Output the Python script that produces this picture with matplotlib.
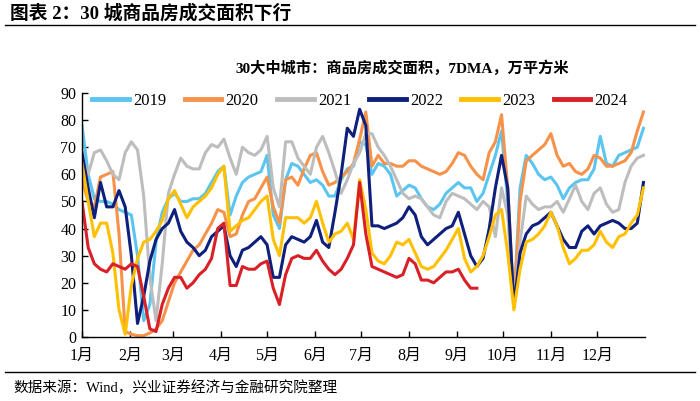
import numpy as np
import matplotlib
matplotlib.use("Agg")
import matplotlib.pyplot as plt
from matplotlib.lines import Line2D

plt.rcParams['font.family'] = ['Liberation Serif', 'Noto Sans CJK SC']
plt.rcParams['axes.unicode_minus'] = False

# day-of-year sampling (every 4 days)
day_of_year = list(range(0, 365, 4))

s2019 = [78, 60, 51, 50, 50, 49, 47, 46, 45, 30,
         6, 12, 35, 46, 51, 53, 50, 50, 51, 51,
         53, 57, 61, 63, 45, 52, 57, 59, 60, 61,
         67, 45, 40, 58, 64, 63, 60, 57, 58, 56,
         52, 52, 58, 62, 63, 72, 71, 60, 64, 63,
         60, 52, 54, 56, 55, 51, 48, 47, 49, 53,
         55, 57, 55, 55, 50, 53, 60, 67, 76, 50,
         12, 55, 67, 64, 60, 58, 59, 56, 51, 55,
         57, 58, 58, 62, 74, 64, 63, 67, 68, 69,
         70, 77]
s2020 = [58, 50, 48, 59, 60, 61, 38, 2, 1, 0.5,
         0.5, 1.5, 3, 6, 13, 20, 24, 28, 32, 34,
         38, 42, 47, 46, 37, 38, 45, 50, 51, 55,
         59, 48, 42, 58, 59, 56, 62, 67, 68, 61,
         56, 57, 59, 61, 64, 73, 83, 63, 67, 64,
         64, 63, 63, 65, 65, 63, 62, 61, 60, 61,
         64, 68, 67, 63, 60, 58, 68, 72, 82, 55,
         12, 50, 65, 67, 69, 71, 75, 67, 63, 64,
         61, 60, 62, 67, 66, 63, 63, 64, 65, 68,
         76, 83]
s2021 = [66, 60, 68, 69, 65, 60, 58, 68, 72, 69,
         52, 22, 6, 27, 53, 60, 66, 63, 62, 62,
         68, 71, 70, 73, 66, 60, 70, 68, 67, 69,
         74, 55, 48, 72, 72, 66, 63, 60, 70, 74,
         68, 61, 53, 58, 64, 68, 75, 75, 70, 67,
         63, 58, 53, 51, 52, 51, 48, 45, 44, 50,
         53, 52, 51, 49, 47, 50, 48, 37, 55, 45,
         12, 35, 52, 49, 47, 48, 48, 50, 46, 51,
         56, 50, 47, 53, 55, 49, 46, 47, 57, 63,
         66, 67]
s2022 = [68, 55, 44, 57, 48, 48, 54, 48, 30, 5,
         15, 28, 36, 40, 42, 47, 39, 35, 33, 30,
         32, 37, 39, 41, 30, 26, 32, 33, 35, 37,
         34, 22, 22, 34, 37, 36, 35, 37, 43, 35,
         33, 46, 60, 77, 74, 84, 78, 41, 41, 40,
         41, 42, 44, 48, 45, 37, 34, 36, 38, 40,
         41, 46, 38, 30, 26, 29, 40, 55, 67, 55,
         11, 31, 38, 41, 42, 44, 46, 41, 36, 33,
         33, 39, 41, 38, 41, 42, 43, 42, 40, 40,
         42, 57]
s2023 = [64, 50, 37, 42, 42, 31, 10, 1, 19, 29,
         35, 36, 39, 43, 51, 54, 49, 44, 48, 50,
         52, 55, 60, 63, 39, 41, 43, 44, 47, 50,
         52, 36, 30, 44, 44, 44, 42, 44, 50, 42,
         35, 38, 39, 42, 36, 58, 47, 31, 28, 27,
         30, 35, 34, 36, 31, 26, 25, 26, 29, 32,
         36, 40, 29, 24, 26, 30, 37, 45, 47, 31,
         10, 25, 35, 36, 38, 41, 46, 41, 33, 27,
         29, 32, 32, 34, 39, 35, 33, 37, 38, 42,
         45, 55]
s2024 = [50, 33, 27, 25, 24, 27, 26, 25, 27, 26,
         15, 3, 2, 12, 18, 22, 22, 18, 20, 23,
         25, 29, 40, 42, 19, 19, 26, 25, 25, 27,
         28, 18, 12, 23, 29, 30, 29, 29, 32, 28,
         25, 23, 25, 29, 34, 57, 38, 26, 25, 24,
         23, 22, 23, 29, 27, 21, 21, 20, 22, 24,
         24, 25, 21, 18, 18]

series_names = ['2019', '2020', '2021', '2022', '2023', '2024']
series_values = [s2019, s2020, s2021, s2022, s2023, s2024]
series_colors = ['#5BC5F0', '#F7924A', '#BDBDBD', '#0E1F7C', '#FFC000', '#D92027']

month_starts = [0, 31, 59, 90, 120, 151, 181, 212, 243, 273, 304, 334]
month_labels = ['1月', '2月', '3月', '4月', '5月', '6月', '7月', '8月', '9月', '10月', '11月', '12月']
y_ticks = [0, 10, 20, 30, 40, 50, 60, 70, 80, 90]

header_text = '图表 2：30 城商品房成交面积下行'
chart_title = '30大中城市：商品房成交面积，7DMA，万平方米'
source_text = '数据来源：Wind，兴业证券经济与金融研究院整理'

fig = plt.figure(figsize=(7.0, 4.01), dpi=100)
ax = fig.add_axes([82/700, 1-337/401, (645-82)/700, (337-93)/401])

for name, vals, col in zip(series_names, series_values, series_colors):
    ax.plot(day_of_year[:len(vals)], vals, color=col, lw=2.2, label=name,
            solid_joinstyle='round')

ax.set_xlim(0, 365)
ax.set_ylim(0, 90)
ax.set_yticks(y_ticks)
ax.set_xticks(month_starts)
ax.set_xticklabels(month_labels)
ax.tick_params(axis='both', direction='in', length=4, width=1, labelsize=11.5, colors='black')
ax.tick_params(axis='x', pad=8)
ax.tick_params(axis='y', pad=4)
for sp in ['top', 'right']:
    ax.spines[sp].set_visible(False)
for sp in ['left', 'bottom']:
    ax.spines[sp].set_color('black')
    ax.spines[sp].set_linewidth(1.0)

handles = [Line2D([0], [0], color=c, lw=3.5) for c in series_colors]
ax.legend(handles, series_names, ncol=6, loc='center',
          bbox_to_anchor=((360-82)/563, (337-100.7)/244),
          frameon=False, fontsize=12, handlelength=2.2, handletextpad=0.25,
          columnspacing=1.1, borderaxespad=0)

fig.text(402/700, 1-68/401, chart_title, ha='center', va='center',
         fontsize=11, fontweight='bold')
fig.text(10/700, 1-13/401, header_text, ha='left', va='center',
         fontsize=13.5, fontweight='bold')
fig.add_artist(Line2D([5/700, 695/700], [1-25/401, 1-25/401], color='black', lw=1.0,
                      transform=fig.transFigure))
fig.add_artist(Line2D([5/700, 695/700], [1-372/401, 1-372/401], color='black', lw=1.0,
                      transform=fig.transFigure))
fig.text(13/700, 1-388/401, source_text, ha='left', va='center', fontsize=10.5)

fig.savefig('out.png', dpi=100)
